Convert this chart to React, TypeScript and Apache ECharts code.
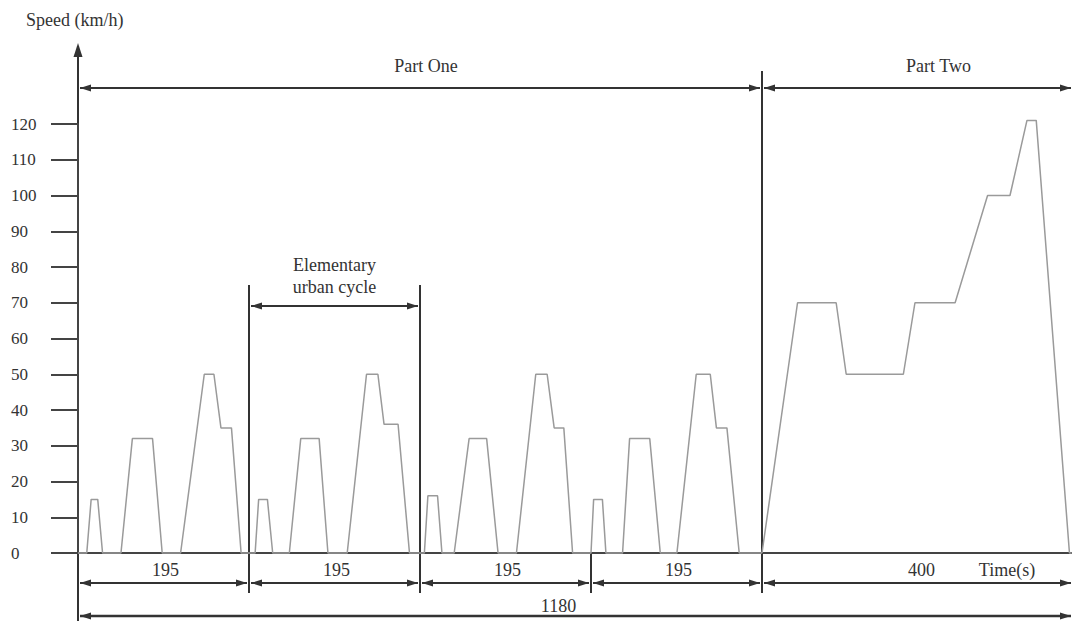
import React, { useEffect, useRef } from "react";
import * as echarts from "echarts";

// Part One: four elementary urban cycles (time s, speed km/h)
const cycle1: [number, number][] = [
  [0, 0], [10, 0], [15, 15], [22.5, 15], [28, 0], [49, 0], [62, 32], [85, 32], [96, 0],
  [117, 0], [144, 50], [155, 50], [163, 35], [175, 35], [186, 0], [195, 0],
];
const cycle2: [number, number][] = [
  [195, 0], [202, 0], [206, 15], [216, 15], [222, 0], [241, 0], [254, 32], [275, 32], [285, 0],
  [307, 0], [329, 50], [342, 50], [349, 36], [365, 36], [378, 0], [390, 0],
];
const cycle3: [number, number][] = [
  [390, 0], [395, 0], [399, 16], [410, 16], [415, 0], [429, 0], [446, 32], [466, 32], [479, 0],
  [500, 0], [522, 50], [535, 50], [543, 35], [554, 35], [564, 0], [585, 0],
];
const cycle4: [number, number][] = [
  [585, 0], [588, 15], [598, 15], [602, 0], [621, 0], [629, 32], [652, 32], [664, 0],
  [683, 0], [705, 50], [721, 50], [728, 35], [740, 35], [754, 0], [780, 0],
];
// Part Two: extra-urban cycle
const partTwo: [number, number][] = [
  [780, 0], [826, 70], [876, 70], [889, 50], [963, 50], [978, 70], [1030, 70],
  [1072, 100], [1101, 100], [1123, 121], [1135, 121], [1178, 0], [1180, 0],
];

const cycleBounds = [0, 195, 390, 585, 780];
const partTwoBounds = [780, 1180];
const cycleLabel = "195";
const partTwoLabel = "400";
const totalLabel = "1180";
const yMin = 0;
const yMax = 120;
const yStep = 10;

export default function App() {
  const ref = useRef<HTMLDivElement>(null);

  useEffect(() => {
    const chart = echarts.init(ref.current!, null, { renderer: "svg" });
    const fontFamily = "Liberation Serif";
    const axisColor = "#444";
    const ink = "#333";
    const curve = "#9a9a9a";

    const hiddenX = {
      type: "value",
      axisLine: { show: true, onZero: true, lineStyle: { color: axisColor, width: 2 } },
      axisTick: { show: false },
      axisLabel: { show: false },
      splitLine: { show: false },
    };

    chart.setOption({
      animation: false,
      backgroundColor: "#ffffff",
      grid: [
        { left: 78, top: 124, width: 684, bottom: 68 },
        { left: 762, top: 124, width: 309, bottom: 68 },
      ],
      xAxis: [
        { ...hiddenX, gridIndex: 0, min: cycleBounds[0], max: cycleBounds[cycleBounds.length - 1] },
        { ...hiddenX, gridIndex: 1, min: partTwoBounds[0], max: partTwoBounds[1] },
      ],
      yAxis: [
        {
          gridIndex: 0,
          type: "value",
          min: yMin,
          max: yMax,
          interval: yStep,
          axisLine: { show: true, lineStyle: { color: axisColor, width: 2 } },
          axisTick: { show: true, length: 27, lineStyle: { color: axisColor, width: 2 } },
          axisLabel: { margin: 67, align: "left", fontFamily, fontSize: 17, color: ink },
          splitLine: { show: false },
        },
        { gridIndex: 1, type: "value", min: yMin, max: yMax, show: false },
      ],
      series: [
        {
          type: "line",
          xAxisIndex: 0,
          yAxisIndex: 0,
          data: [...cycle1, ...cycle2, ...cycle3, ...cycle4],
          showSymbol: false,
          silent: true,
          clip: false,
          lineStyle: { color: curve, width: 1.5 },
        },
        {
          type: "line",
          xAxisIndex: 1,
          yAxisIndex: 1,
          data: partTwo,
          showSymbol: false,
          silent: true,
          clip: false,
          lineStyle: { color: curve, width: 1.5 },
        },
      ],
    });

    const X0 = (t: number) => chart.convertToPixel({ xAxisIndex: 0 } as any, t) as number;
    const X1 = (t: number) => chart.convertToPixel({ xAxisIndex: 1 } as any, t) as number;
    const y0 = chart.convertToPixel({ yAxisIndex: 0 } as any, 0) as number;

    const xs = cycleBounds.map(X0);
    const xA = xs[0];
    const xP = xs[xs.length - 1];
    const xE = X1(partTwoBounds[1]);

    const line = (x1: number, y1: number, x2: number, y2: number, w = 2) => ({
      type: "line",
      silent: true,
      shape: { x1, y1, x2, y2 },
      style: { stroke: ink, lineWidth: w },
    });
    const arrowL = (x: number, y: number) => ({
      type: "polygon",
      silent: true,
      shape: { points: [[x, y], [x + 11, y - 3.5], [x + 11, y + 3.5]] },
      style: { fill: ink },
    });
    const arrowR = (x: number, y: number) => ({
      type: "polygon",
      silent: true,
      shape: { points: [[x, y], [x - 11, y - 3.5], [x - 11, y + 3.5]] },
      style: { fill: ink },
    });
    const dim = (xa: number, xb: number, y: number, w = 2) => [line(xa, y, xb, y, w), arrowL(xa, y), arrowR(xb, y)];
    const text = (x: number, y: number, s: string, align = "center") => ({
      type: "text",
      silent: true,
      x,
      y,
      style: {
        text: s,
        font: `18px "${fontFamily}"`,
        fill: ink,
        align,
        verticalAlign: "middle",
        textAlign: align,
        textVerticalAlign: "middle",
      },
    });

    const elements: any[] = [];
    // y axis extension with arrow
    elements.push(line(xA, 46, xA, 621));
    elements.push({
      type: "polygon",
      silent: true,
      shape: { points: [[xA, 43], [xA - 4.5, 57], [xA + 4.5, 57]] },
      style: { fill: ink },
    });
    // vertical dividers
    elements.push(line(xP, 71, xP, 593));
    elements.push(line(xs[1], 285, xs[1], 593));
    elements.push(line(xs[2], 285, xs[2], 593));
    elements.push(line(xs[3], y0, xs[3], 593));
    // Part One / Part Two
    elements.push(...dim(xA + 2, xP - 2, 88));
    elements.push(...dim(xP + 2, xE, 88));
    elements.push(text((xA + xP) / 2 + 6, 66, "Part One"));
    elements.push(text((xP + xE) / 2 + 22, 66, "Part Two"));
    // Elementary urban cycle
    elements.push(...dim(xs[1] + 2, xs[2] - 2, 306));
    elements.push(text((xs[1] + xs[2]) / 2, 265, "Elementary"));
    elements.push(text((xs[1] + xs[2]) / 2, 287, "urban cycle"));
    // 195 dimensions
    for (let i = 0; i < xs.length - 1; i++) {
      elements.push(...dim(xs[i] + 2, xs[i + 1] - 2, 583));
      elements.push(text((xs[i] + xs[i + 1]) / 2 + 2, 570, cycleLabel));
    }
    // 400
    elements.push(...dim(xP + 2, xE, 583));
    elements.push(text((xP + xE) / 2 + 5, 570, partTwoLabel));
    elements.push(text(xE - 64, 570, "Time(s)"));
    // 1180
    elements.push(...dim(xA + 2, xE, 616, 2.5));
    elements.push(text((xA + xE) / 2 - 16, 606, totalLabel));
    // y axis title
    elements.push(text(26, 20, "Speed (km/h)", "left"));

    chart.setOption({ graphic: { elements } });

    return () => chart.dispose();
  }, []);

  return (
    <div
      ref={ref}
      style={{ position: "fixed", left: 0, top: 0, width: 1074, height: 621, background: "#fff" }}
    />
  );
}
